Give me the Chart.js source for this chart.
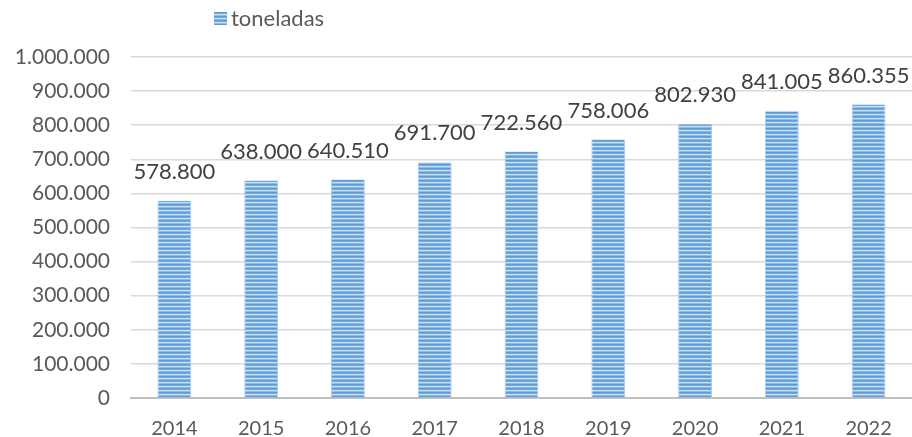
<!DOCTYPE html>
<html>
<head>
<meta charset="utf-8">
<script src="https://cdn.jsdelivr.net/npm/chart.js@4/dist/chart.umd.min.js"></script>
<style>
html,body{margin:0;padding:0;background:#fff;}
#wrap{width:912px;height:437px;}
</style>
</head>
<body>
<div id="wrap"><canvas id="c" width="912" height="437"></canvas></div>
<script>
const categories = ['2014','2015','2016','2017','2018','2019','2020','2021','2022'];
const toneladas = [578800, 638000, 640510, 691700, 722560, 758006, 802930, 841005, 860355];
const seriesName = 'toneladas';
const yTicks = [0,100000,200000,300000,400000,500000,600000,700000,800000,900000,1000000];

const FONT = 'Lato, "Open Sans", sans-serif';

function fmt(v){
  return String(Math.round(v)).replace(/\B(?=(\d{3})+(?!\d))/g, '.');
}

function makePattern(){
  const p = document.createElement('canvas');
  p.width = 4; p.height = 4;
  const g = p.getContext('2d');
  const rows = ['#5b9bd5','#74aadf','#c6ddf2','#90bde6'];
  rows.forEach((c,i)=>{ g.fillStyle=c; g.fillRect(0,i,4,1); });
  return document.getElementById('c').getContext('2d').createPattern(p,'repeat');
}

const labelsPlugin = {
  id:'valueLabels',
  afterDatasetsDraw(chart){
    const ctx = chart.ctx;
    const meta = chart.getDatasetMeta(0);
    ctx.save();
    ctx.font = '22px ' + FONT;
    ctx.fillStyle = '#404040';
    ctx.textAlign = 'center';
    ctx.textBaseline = 'middle';
    meta.data.forEach((bar,i)=>{
      ctx.fillText(fmt(toneladas[i]), bar.x, bar.y - 29);
    });
    ctx.restore();
  }
};

const legendPlugin = {
  id:'customLegend',
  afterDraw(chart){
    const ctx = chart.ctx;
    ctx.save();
    ctx.fillStyle = chart.data.datasets[0].backgroundColor;
    ctx.fillRect(214, 12, 13, 13);
    ctx.font = '22px ' + FONT;
    ctx.fillStyle = '#595959';
    ctx.textAlign = 'left';
    ctx.textBaseline = 'middle';
    ctx.fillText(seriesName, 231, 19);
    ctx.restore();
  }
};

new Chart(document.getElementById('c'), {
  type:'bar',
  data:{
    labels: categories,
    datasets:[{
      label: seriesName,
      data: toneladas,
      backgroundColor: makePattern(),
      borderColor: '#a9cbeb',
      borderWidth: {left:1,right:1,top:0,bottom:0},
      categoryPercentage: 1,
      barPercentage: 0.39
    }]
  },
  options:{
    responsive:false,
    animation:false,
    layout:{padding:{top:57,left:0,right:0,bottom:0}},
    plugins:{legend:{display:false}, tooltip:{enabled:false}},
    scales:{
      x:{
        grid:{display:false, drawTicks:false},
        border:{display:true, color:'#bfbfbf', width:2},
        ticks:{color:'#595959', font:{family:FONT,size:20}, padding:19},
        afterFit(s){ s.height = 39; }
      },
      y:{
        min:0, max:1000000,
        afterBuildTicks(s){ s.ticks = yTicks.map(v=>({value:v})); },
        grid:{color:'#d9d9d9', lineWidth:1.5, drawTicks:false},
        border:{display:false},
        ticks:{color:'#595959', font:{family:FONT,size:21}, padding:21, callback:(v)=>fmt(v)},
        afterFit(s){ s.width = 131; }
      }
    }
  },
  plugins:[labelsPlugin, legendPlugin]
});
</script>
</body>
</html>
